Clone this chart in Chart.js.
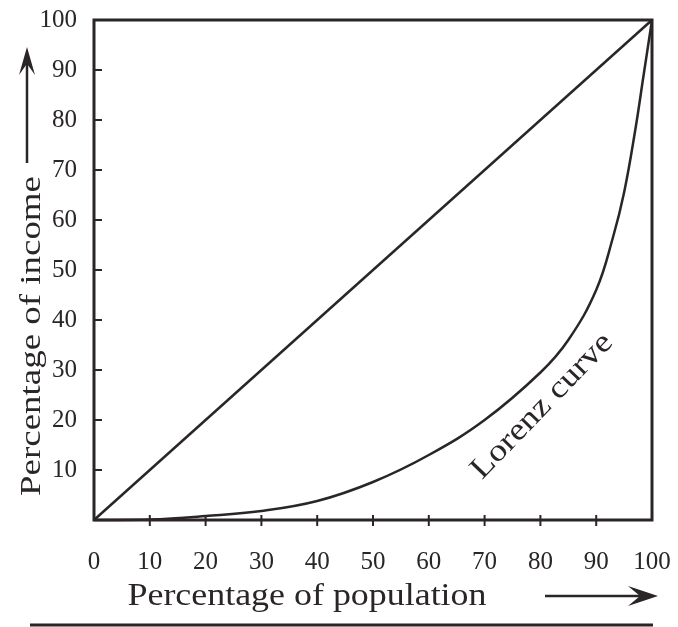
<!DOCTYPE html>
<html lang="en">
<head>
    <meta charset="UTF-8">
    <title>Lorenz curve</title>
    <style>
        body {
            margin: 0;
            padding: 0;
            background-color: white;
        }

        .wrap {
            width: 678px;
            height: 627px;
        }
    </style>
</head>
<body>

<div class="wrap">
    <canvas id="lorenzChart" width="678" height="627"></canvas>
</div>

<script src="https://cdn.jsdelivr.net/npm/chart.js"></script>
<script>
    // Lorenz curve values
    const populationShare = [0, 10, 20, 30, 40, 50, 60, 70, 80, 85, 90, 93, 95, 97, 98.5, 100];
    const incomeShare = [0, 0.1, 0.8, 1.8, 3.8, 7.6, 13, 20, 29.5, 36, 46, 56.5, 65.5, 78, 89, 100];

    // line of equal distribution
    const equalityX = [0, 100];
    const equalityY = [0, 100];

    const xTickLabels = [0, 10, 20, 30, 40, 50, 60, 70, 80, 90, 100];
    const yTickLabels = [10, 20, 30, 40, 50, 60, 70, 80, 90, 100];

    const ink = '#2a2527';
    const serif = "'Liberation Serif', 'DejaVu Serif', serif";

    function toPoints(xs, ys) {
        return xs.map((x, i) => ({ x: x, y: ys[i] }));
    }

    // draws a text stretched to a given length along its baseline
    function stretchedText(ctx, text, x, y, angle, size, length) {
        ctx.save();
        ctx.font = size + 'px ' + serif;
        const w = ctx.measureText(text).width;
        ctx.translate(x, y);
        ctx.rotate(angle);
        ctx.scale(length / w, 1);
        ctx.textAlign = 'center';
        ctx.textBaseline = 'alphabetic';
        ctx.fillStyle = ink;
        ctx.fillText(text, 0, 0);
        ctx.restore();
    }

    function arrowHead(ctx, tipX, tipY, dx, dy, len, half) {
        // dx, dy: unit direction the arrow points to
        const bx = tipX - dx * len, by = tipY - dy * len;
        const nx = -dy, ny = dx;
        ctx.beginPath();
        ctx.moveTo(tipX, tipY);
        ctx.lineTo(bx + nx * half, by + ny * half);
        ctx.lineTo(tipX - dx * len * 0.6, tipY - dy * len * 0.6);
        ctx.lineTo(bx - nx * half, by - ny * half);
        ctx.closePath();
        ctx.fill();
    }

    const framePlugin = {
        id: 'frame',
        beforeDraw(chart) {
            const ctx = chart.ctx;
            ctx.save();
            ctx.fillStyle = 'white';
            ctx.fillRect(0, 0, chart.width, chart.height);
            ctx.restore();
        },
        afterDraw(chart) {
            const ctx = chart.ctx;
            const a = chart.chartArea;
            const xs = chart.scales.x;
            const ys = chart.scales.y;

            ctx.save();
            ctx.strokeStyle = ink;
            ctx.fillStyle = ink;
            ctx.lineWidth = 3;
            ctx.strokeRect(a.left, a.top, a.right - a.left, a.bottom - a.top);

            // small tick marks on the inside of the axes
            ctx.lineWidth = 2;
            yTickLabels.slice(0, -1).forEach(v => {
                const py = ys.getPixelForValue(v);
                ctx.beginPath();
                ctx.moveTo(a.left, py);
                ctx.lineTo(a.left + 8, py);
                ctx.stroke();
            });
            xTickLabels.slice(1, -1).forEach(v => {
                const px = xs.getPixelForValue(v);
                ctx.beginPath();
                ctx.moveTo(px, a.bottom - 5);
                ctx.lineTo(px, a.bottom + 6);
                ctx.stroke();
            });

            // axis titles
            stretchedText(ctx, 'Percentage of population', 307, 605, 0, 31, 359);
            stretchedText(ctx, 'Percentage of income', 40, 336, -Math.PI / 2, 29, 320);
            stretchedText(ctx, 'Lorenz curve', 548, 412, -46 * Math.PI / 180, 31, 190);

            // arrows next to the titles
            ctx.lineWidth = 2.5;
            ctx.beginPath();
            ctx.moveTo(27, 163);
            ctx.lineTo(27, 60);
            ctx.stroke();
            arrowHead(ctx, 27, 47, 0, -1, 28, 8);

            ctx.beginPath();
            ctx.moveTo(545, 596);
            ctx.lineTo(645, 596);
            ctx.stroke();
            arrowHead(ctx, 658, 596, 1, 0, 30, 10);

            // rule under the figure
            ctx.lineWidth = 3;
            ctx.beginPath();
            ctx.moveTo(30, 625);
            ctx.lineTo(653, 625);
            ctx.stroke();
            ctx.restore();
        }
    };

    const ctx = document.getElementById('lorenzChart').getContext('2d');
    const lorenzChart = new Chart(ctx, {
        type: 'scatter',
        data: {
            datasets: [{
                label: 'Equality',
                data: toPoints(equalityX, equalityY),
                showLine: true,
                borderColor: ink,
                borderWidth: 2.5,
                pointRadius: 0,
                clip: false
            }, {
                label: 'Lorenz curve',
                data: toPoints(populationShare, incomeShare),
                showLine: true,
                tension: 0.4,
                borderColor: ink,
                borderWidth: 2.5,
                pointRadius: 0,
                clip: false
            }]
        },
        options: {
            responsive: false,
            animation: false,
            layout: {
                padding: { left: 0, right: 26, top: 20, bottom: 0 }
            },
            plugins: {
                legend: { display: false },
                tooltip: { enabled: false }
            },
            scales: {
                x: {
                    type: 'linear',
                    min: 0,
                    max: 100,
                    afterFit: s => {
                        s.height = 107;
                        s.paddingLeft = 0;
                        s.paddingRight = 0;
                    },
                    afterBuildTicks: s => { s.ticks = xTickLabels.map(v => ({ value: v })); },
                    grid: { display: false },
                    border: { display: false },
                    ticks: {
                        color: ink,
                        padding: 19,
                        maxRotation: 0,
                        font: { family: serif, size: 25 }
                    }
                },
                y: {
                    type: 'linear',
                    min: 0,
                    max: 100,
                    afterFit: s => {
                        s.width = 94;
                        s.paddingTop = 0;
                        s.paddingBottom = 0;
                    },
                    afterBuildTicks: s => { s.ticks = yTickLabels.map(v => ({ value: v })); },
                    grid: { display: false },
                    border: { display: false },
                    ticks: {
                        color: ink,
                        padding: 9,
                        font: { family: serif, size: 25 }
                    }
                }
            }
        },
        plugins: [framePlugin]
    });
</script>
</body>
</html>
